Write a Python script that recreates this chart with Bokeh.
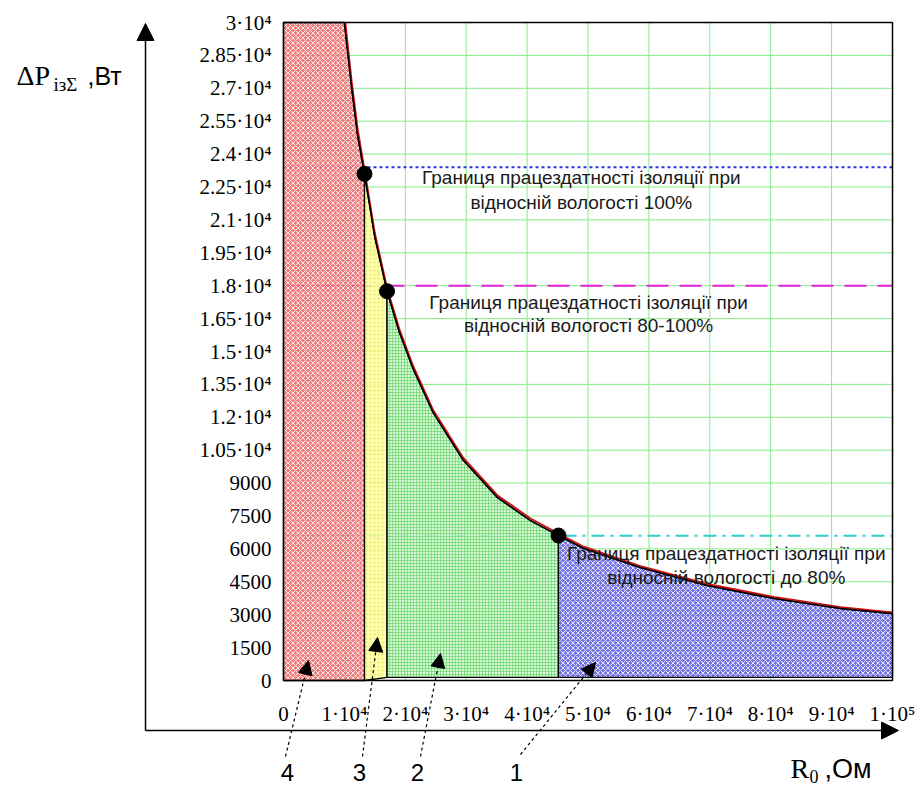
import numpy as np
from bokeh.plotting import figure
from bokeh.models import Range1d, FixedTicker, Arrow, NormalHead, Label, ColumnDataSource
from bokeh.core.properties import value
from bokeh.embed import file_html
from bokeh.resources import INLINE

# ---------------- data ----------------
R_curve = [10000, 11200, 12200, 13300, 15000, 17000, 19000, 21300, 24600, 29500,
           35100, 40500, 45150, 49300, 58600, 69600, 80500, 91500, 100000]
P_black = [30000, 27000, 24800, 23100, 20200, 17750, 15900, 14200, 12200, 10050,
           8350, 7300, 6610, 6020, 5150, 4330, 3740, 3280, 3050]
P_red = [30400, 27300, 25100, 23300, 20400, 17900, 16050, 14330, 12320, 10160,
         8450, 7400, 6700, 6100, 5220, 4400, 3810, 3350, 3110]

R_bounds = [0, 13300, 17000, 45150, 100000]          # region borders, Ohm
base_left = [0, 0, 140, 140]
base_right = [0, 140, 140, 140]
region_fill = ["#ee6868", "#ffffa0", "#d0f5d0", "#5c5ce0"]
region_hatch = ["x", ".", "+", "x"]
region_hatch_color = ["white", "#e0e060", "#6ad86a", "white"]
region_hatch_scale = [5, 4, 3, 5]
region_hatch_weight = [1.0, 1, 0.8, 1.0]
region_hatch_alpha = [0.8, 0.9, 0.9, 0.8]

limits_P = [23400, 18000, 6600]
limit_colors = ["#3030dd", "#e020d8", "#30d0d0"]
limit_dash = ["3 3", "22 11", "13 6 3 6"]

pts_R = [13300, 17000, 45150]
pts_P = [23100, 17750, 6610]

X_MAX, Y_MAX = 100000, 30000
x_ticks = [0, 10000, 20000, 30000, 40000, 50000, 60000, 70000, 80000, 90000, 100000]
x_tick_labels = ["0", "1·10⁴", "2·10⁴", "3·10⁴", "4·10⁴", "5·10⁴", "6·10⁴",
                 "7·10⁴", "8·10⁴", "9·10⁴", "1·10⁵"]
y_ticks = [0, 1500, 3000, 4500, 6000, 7500, 9000, 10500, 12000, 13500, 15000,
           16500, 18000, 19500, 21000, 22500, 24000, 25500, 27000, 28500, 30000]
y_tick_labels = ["0", "1500", "3000", "4500", "6000", "7500", "9000", "1.05·10⁴",
                 "1.2·10⁴", "1.35·10⁴", "1.5·10⁴", "1.65·10⁴", "1.8·10⁴", "1.95·10⁴",
                 "2.1·10⁴", "2.25·10⁴", "2.4·10⁴", "2.55·10⁴", "2.7·10⁴", "2.85·10⁴", "3·10⁴"]

note_text = ["Границя працездатності ізоляції при", "відносній вологості 100%",
             "Границя працездатності ізоляції при", "відносній вологості 80-100%",
             "Границя працездатності ізоляції при", "відносній вологості до 80%"]
note_x = [48900, 48900, 50100, 50100, 72700, 72700]
note_y = [22930, 21790, 17230, 16180, 5790, 4700]

SERIF = "Liberation Serif"
SANS = "Liberation Sans"

# ---------------- layout: the frame fills the canvas ----------------
W, H = 916, 788
FX0, FX1 = 283, 892      # pixel columns of R = 0 and R = X_MAX
FY0, FY1 = 680, 22       # pixel rows of P = 0 and P = Y_MAX


def X(px):
    return (px - FX0) / (FX1 - FX0) * X_MAX


def Y(py):
    return (FY0 - py) / (FY0 - FY1) * Y_MAX


p = figure(width=W, height=H, output_backend="svg", toolbar_location=None,
           x_range=Range1d(X(0), X(W)), y_range=Range1d(Y(H), Y(0)),
           min_border=0, min_border_left=0, min_border_right=0,
           min_border_top=0, min_border_bottom=0)
p.background_fill_color = "white"
p.border_fill_color = "white"
p.outline_line_color = None
p.grid.visible = False

for ax in (p.xaxis[0], p.yaxis[0]):
    ax.fixed_location = 0
    ax.axis_line_color = None
    ax.major_tick_line_color = None
    ax.minor_tick_line_color = None
    ax.major_tick_out = 0
    ax.major_tick_in = 0
    ax.major_label_text_font = SERIF
    ax.major_label_text_font_size = "21px"
    ax.major_label_text_color = "black"
p.xaxis.bounds = (0, X_MAX)
p.yaxis.bounds = (0, Y_MAX)
p.xaxis.ticker = FixedTicker(ticks=x_ticks)
p.yaxis.ticker = FixedTicker(ticks=y_ticks)
p.xaxis.major_label_overrides = {t: s for t, s in zip(x_ticks, x_tick_labels)}
p.yaxis.major_label_overrides = {t: s for t, s in zip(y_ticks, y_tick_labels)}
p.xaxis.major_label_standoff = 21
p.yaxis.major_label_standoff = 12

# green grid inside the plot box
p.segment(x0=x_ticks, y0=[0] * len(x_ticks), x1=x_ticks, y1=[Y_MAX] * len(x_ticks),
          line_color="#86ec86", line_width=1)
p.segment(x0=[0] * len(y_ticks), y0=y_ticks, x1=[X_MAX] * len(y_ticks), y1=y_ticks,
          line_color="#86ec86", line_width=1)

# limit lines (behind the semi-transparent regions)
for lp, c, d in zip(limits_P, limit_colors, limit_dash):
    p.line([0, X_MAX], [lp, lp], line_color=c, line_width=2, line_dash=d)

# regions under the curve
for i in range(4):
    r0, r1 = R_bounds[i], R_bounds[i + 1]
    top_r = [r0] + [r for r in R_curve if r0 < r < r1] + [r1]
    top_p = [min(float(np.interp(r, R_curve, P_black)), float(Y_MAX)) for r in top_r]
    xs = top_r + [r1, r0]
    ys = top_p + [base_right[i], base_left[i]]
    p.patch(xs, ys, fill_color=region_fill[i], fill_alpha=0.85,
            hatch_pattern=region_hatch[i], hatch_color=region_hatch_color[i],
            hatch_scale=region_hatch_scale[i], hatch_weight=region_hatch_weight[i],
            hatch_alpha=region_hatch_alpha[i], line_color="black", line_width=1.3)

# curves (clipped to the plot box)
rc = np.array(R_curve, dtype=float)
pr = np.array(P_red, dtype=float)
pb = np.array(P_black, dtype=float)
keep_r = pr <= Y_MAX
p.line(np.r_[np.interp(Y_MAX, pr[::-1], rc[::-1]), rc[keep_r]], np.r_[Y_MAX, pr[keep_r]],
       line_color="#d01010", line_width=1.8)
p.line(rc, pb, line_color="black", line_width=1.6)
p.scatter(pts_R, pts_P, size=15, fill_color="black", line_color="black")

# plot box
p.quad(left=[0], right=[X_MAX], bottom=[0], top=[Y_MAX], fill_color=None,
       line_color="black", line_width=1.5)

p.text(x="x", y="y", text="t", source=ColumnDataSource(dict(x=note_x, y=note_y, t=note_text)),
       text_align="center", text_baseline="middle", text_font=value(SANS),
       text_font_size="19px", text_color="#1a1a1a")

# outer axes with arrows
AX_X, AX_Y = X(145), Y(730)
head = dict(fill_color="black", line_color="black")
p.add_layout(Arrow(x_start=AX_X, y_start=AX_Y, x_end=AX_X, y_end=Y(23), line_width=1.5,
                   line_color="black", end=NormalHead(size=17, **head)))
p.add_layout(Arrow(x_start=AX_X, y_start=AX_Y, x_end=X(898), y_end=AX_Y, line_width=1.5,
                   line_color="black", end=NormalHead(size=17, **head)))


# axis titles
def lab(px, py, t, font, size):
    p.add_layout(Label(x=X(px), y=Y(py), text=t, text_font=font, text_font_size=size,
                       text_baseline="alphabetic", text_color="black"))


lab(16, 75, "ΔP", SERIF, "28px")
lab(53, 84, "ізΣ", SERIF, "19px")
lab(87, 75, ",Вт", SANS, "25px")
lab(790, 768, "R", SERIF, "28px")
lab(809, 776, "0", SERIF, "18px")
lab(824, 768, ",Ом", SANS, "27px")

# region numbers with dashed leaders
num_text = ["4", "3", "2", "1"]
num_px = [287, 359, 417, 516]
lead_start = [(285, 756), (362, 756), (420, 756), (520, 754)]
lead_end = [(308, 660), (377, 637), (440, 653), (595, 662)]
for t, nx, (sx, sy), (ex, ey) in zip(num_text, num_px, lead_start, lead_end):
    p.add_layout(Label(x=X(nx), y=Y(772), text=t, text_font=SANS, text_font_size="24px",
                       text_align="center", text_baseline="middle", text_color="black"))
    p.add_layout(Arrow(x_start=X(sx), y_start=Y(sy), x_end=X(ex), y_end=Y(ey), line_width=1.2,
                       line_color="black", line_dash="3 3", end=NormalHead(size=14, **head)))

open("out.html", "w").write(file_html(p, INLINE))
